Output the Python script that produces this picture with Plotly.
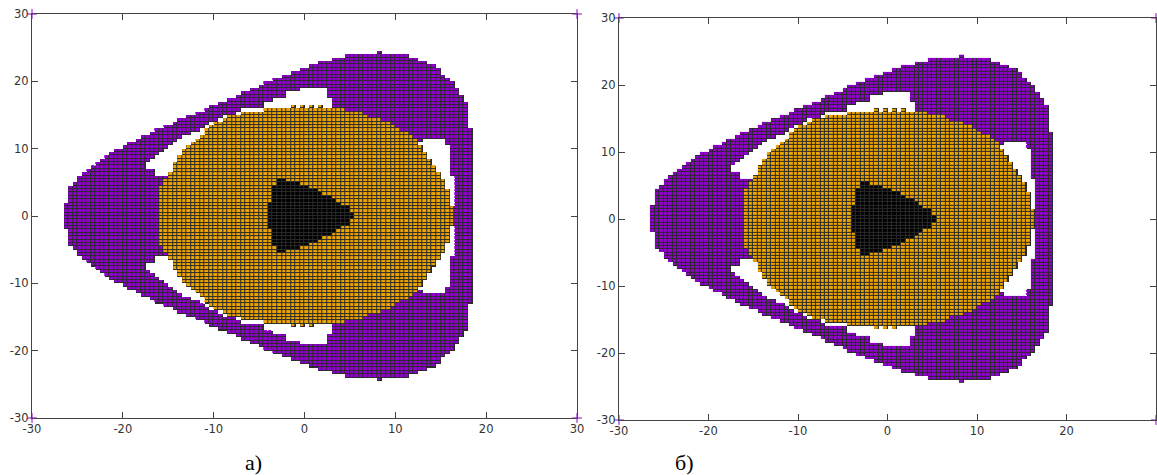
import numpy as np
import plotly.graph_objects as go

# ---------------- data ----------------
# grid of 0.5 x 0.5 cells; every row is given by its lower edge y,
# the purple outer extent, white holes, orange extent, black extent
CELL = 0.5
X_EDGES = (-27.0, 19.0)
Y_EDGES = (-24.5, 24.5)

# (y_low, purple_left, purple_right, holes, orange, black)
ROWS_UPPER = [
    (24.0, 8.0, 8.5, [], None, None),
    (23.5, 4.5, 11.5, [], None, None),
    (23.0, 3.0, 12.5, [], None, None),
    (22.5, 1.5, 13.5, [], None, None),
    (22.0, 0.5, 14.5, [], None, None),
    (21.5, -0.5, 15.0, [], None, None),
    (21.0, -1.5, 15.0, [], None, None),
    (20.5, -2.5, 15.5, [], None, None),
    (20.0, -3.5, 16.0, [], None, None),
    (19.5, -4.5, 16.5, [], None, None),
    (19.0, -5.0, 16.5, [], None, None),
    (18.5, -6.0, 17.0, [(-0.5, 2.5)], None, None),
    (18.0, -7.0, 17.0, [(-2.0, 2.5)], None, None),
    (17.5, -7.5, 17.5, [(-2.0, 2.5)], None, None),
    (17.0, -8.5, 17.5, [(-3.5, 3.0)], None, None),
    (16.5, -9.5, 18.0, [(-4.5, 3.0)], None, None),
    (16.0, -10.5, 18.0, [(-4.5, 3.0)], None, None),
    (15.5, -11.0, 18.0, [(-7.0, -4.5)], (-4.5, 4.5), None),
    (15.0, -12.0, 18.0, [(-7.5, -7.0)], (-7.0, 6.5), None),
    (14.5, -13.0, 18.0, [(-9.0, -8.5)], (-8.5, 7.0), None),
    (14.0, -14.0, 18.0, [(-9.5, -9.0)], (-9.0, 8.5), None),
    (13.5, -14.5, 18.0, [(-10.5, -10.0)], (-10.0, 9.5), None),
    (13.0, -15.5, 18.0, [(-11.0, -10.5)], (-10.5, 10.0), None),
    (12.5, -16.5, 18.5, [(-11.5, -11.0)], (-11.0, 10.5), None),
    (12.0, -17.0, 18.5, [(-12.5, -11.0)], (-11.0, 11.5), None),
    (11.5, -18.0, 18.5, [(-13.5, -11.5)], (-11.5, 12.0), None),
    (11.0, -18.5, 18.5, [(-14.0, -12.0), (13.0, 15.5)], (-12.0, 12.5), None),
    (10.5, -19.5, 18.5, [(-14.5, -12.5), (12.5, 15.5)], (-12.5, 12.5), None),
    (10.0, -20.0, 18.5, [(-15.0, -13.0), (13.0, 16.0)], (-13.0, 13.0), None),
    (9.5, -21.0, 18.5, [(-15.5, -13.5), (13.0, 16.0)], (-13.5, 13.0), None),
    (9.0, -21.5, 18.5, [(-16.0, -13.5), (13.5, 16.0)], (-13.5, 13.5), None),
    (8.5, -22.0, 18.5, [(-16.5, -14.0), (13.5, 16.0)], (-14.0, 13.5), None),
    (8.0, -22.5, 18.5, [(-17.0, -14.0), (14.0, 16.0)], (-14.0, 14.0), None),
    (7.5, -23.0, 18.5, [(-17.5, -14.5), (14.0, 16.0)], (-14.5, 14.0), None),
    (7.0, -23.5, 18.5, [(-17.5, -14.5), (14.5, 16.0)], (-14.5, 14.5), None),
    (6.5, -24.0, 18.5, [(-16.5, -14.5), (14.5, 16.0)], (-14.5, 14.5), None),
    (6.0, -24.5, 18.5, [(-16.5, -15.0), (15.0, 16.0)], (-15.0, 15.0), None),
    (5.5, -25.0, 18.5, [(15.0, 16.5)], (-15.0, 15.0), None),
    (5.0, -25.0, 18.5, [(15.5, 16.5)], (-15.5, 15.5), (-3.0, -2.0)),
    (4.5, -25.5, 18.5, [(15.5, 16.5)], (-15.5, 15.5), (-3.0, -0.5)),
    (4.0, -26.0, 18.5, [(15.5, 16.5)], (-16.0, 15.5), (-3.5, 0.5)),
    (3.5, -26.0, 18.5, [(16.0, 16.5)], (-16.0, 16.0), (-3.5, 1.5)),
    (3.0, -26.0, 18.5, [(16.0, 16.5)], (-16.0, 16.0), (-3.5, 2.0)),
    (2.5, -26.0, 18.5, [(16.0, 16.5)], (-16.0, 16.0), (-3.5, 3.0)),
    (2.0, -26.0, 18.5, [(16.0, 16.5)], (-16.0, 16.0), (-3.5, 3.5)),
    (1.5, -26.5, 18.5, [(16.0, 16.5)], (-16.0, 16.0), (-4.0, 4.0)),
    (1.0, -26.5, 18.5, [], (-16.0, 16.5), (-4.0, 5.0)),
    (0.5, -26.5, 18.5, [], (-16.0, 16.5), (-4.0, 5.0)),
    (0.0, -26.5, 18.5, [], (-16.0, 16.5), (-4.0, 5.5)),
]

ROWS_LOWER = [
    (-0.5, -26.5, 18.5, [], (-16.0, 16.5), (-4.0, 5.5)),
    (-1.0, -26.5, 18.5, [], (-16.0, 16.5), (-4.0, 5.0)),
    (-1.5, -26.5, 18.5, [], (-16.0, 16.5), (-4.0, 5.0)),
    (-2.0, -26.5, 18.5, [(16.0, 16.5)], (-16.0, 16.0), (-4.0, 4.0)),
    (-2.5, -26.0, 18.5, [(16.0, 16.5)], (-16.0, 16.0), (-3.5, 3.5)),
    (-3.0, -26.0, 18.5, [(16.0, 16.5)], (-16.0, 16.0), (-3.5, 3.0)),
    (-3.5, -26.0, 18.5, [(16.0, 16.5)], (-16.0, 16.0), (-3.5, 2.0)),
    (-4.0, -26.0, 18.5, [(16.0, 16.5)], (-16.0, 16.0), (-3.5, 1.5)),
    (-4.5, -26.0, 18.5, [(15.5, 16.5)], (-16.0, 15.5), (-3.5, 0.5)),
    (-5.0, -25.5, 18.5, [(15.5, 16.5)], (-15.5, 15.5), (-3.0, -0.5)),
    (-5.5, -25.0, 18.5, [(15.5, 16.5)], (-15.5, 15.5), (-3.0, -2.0)),
    (-6.0, -25.0, 18.5, [(15.0, 16.5)], (-15.0, 15.0), None),
    (-6.5, -24.5, 18.5, [(-16.5, -15.0), (15.0, 16.0)], (-15.0, 15.0), None),
    (-7.0, -24.0, 18.5, [(-16.5, -14.5), (14.5, 16.0)], (-14.5, 14.5), None),
    (-7.5, -23.5, 18.5, [(-17.5, -14.5), (14.5, 16.0)], (-14.5, 14.5), None),
    (-8.0, -23.0, 18.5, [(-17.5, -14.5), (14.0, 16.0)], (-14.5, 14.0), None),
    (-8.5, -22.5, 18.5, [(-17.0, -14.0), (14.0, 16.0)], (-14.0, 14.0), None),
    (-9.0, -22.0, 18.5, [(-16.5, -14.0), (13.5, 16.0)], (-14.0, 13.5), None),
    (-9.5, -21.5, 18.5, [(-16.0, -13.5), (13.5, 16.0)], (-13.5, 13.5), None),
    (-10.0, -21.0, 18.5, [(-15.5, -13.5), (13.0, 16.0)], (-13.5, 13.0), None),
    (-10.5, -20.0, 18.5, [(-15.0, -13.0), (13.0, 16.0)], (-13.0, 13.0), None),
    (-11.0, -19.5, 18.5, [(-14.5, -12.5), (12.5, 15.5)], (-12.5, 12.5), None),
    (-11.5, -18.5, 18.5, [(-14.0, -12.0), (13.0, 15.5)], (-12.0, 12.5), None),
    (-12.0, -18.0, 18.5, [(-13.5, -11.5)], (-11.5, 12.0), None),
    (-12.5, -17.0, 18.5, [(-12.5, -11.0)], (-11.0, 11.5), None),
    (-13.0, -16.5, 18.5, [(-11.5, -11.0)], (-11.0, 10.5), None),
    (-13.5, -15.5, 18.0, [(-11.0, -10.5)], (-10.5, 10.0), None),
    (-14.0, -14.5, 18.0, [(-10.5, -10.0)], (-10.0, 9.5), None),
    (-14.5, -14.0, 18.0, [(-9.5, -9.0)], (-9.0, 8.5), None),
    (-15.0, -13.0, 18.0, [(-9.0, -8.5)], (-8.5, 7.0), None),
    (-15.5, -12.0, 18.0, [(-7.5, -7.0)], (-7.0, 6.5), None),
    (-16.0, -11.0, 18.0, [(-7.0, -4.5)], (-4.5, 4.5), None),
    (-16.5, -10.5, 18.0, [(-4.5, 3.0)], None, None),
    (-17.0, -9.5, 18.0, [(-4.5, 3.0)], None, None),
    (-17.5, -8.5, 17.5, [(-3.5, 3.0)], None, None),
    (-18.0, -7.5, 17.5, [(-2.0, 2.5)], None, None),
    (-18.5, -7.0, 17.0, [(-2.0, 2.5)], None, None),
    (-19.0, -6.0, 17.0, [(-0.5, 2.5)], None, None),
    (-19.5, -5.0, 16.5, [], None, None),
    (-20.0, -4.5, 16.5, [], None, None),
    (-20.5, -3.5, 16.0, [], None, None),
    (-21.0, -2.5, 15.5, [], None, None),
    (-21.5, -1.5, 15.0, [], None, None),
    (-22.0, -0.5, 15.0, [], None, None),
    (-22.5, 0.5, 14.5, [], None, None),
    (-23.0, 1.5, 13.5, [], None, None),
    (-23.5, 3.0, 12.5, [], None, None),
    (-24.0, 4.5, 11.5, [], None, None),
    (-24.5, 8.0, 8.5, [], None, None),
]

# single orange cells sticking out of the top / bottom of the orange region
TEETH_X_TOP = [-1.5, -0.5, 0.5, 1.5]
TEETH_Y_TOP = 16.0
TEETH_X_BOTTOM = [-1.5, -0.5, 0.5]
TEETH_Y_BOTTOM = -16.5

TICKS = [-30, -20, -10, 0, 10, 20, 30]
TICK_TEXT = ["-30", "-20", "-10", "0", "10", "20", "30"]
AXIS_RANGE = [-30, 30]
CORNER_X = [-30, 30, -30, 30]
CORNER_Y = [30, 30, -30, -30]
PANEL_LABELS = ["а)", "б)"]

PURPLE = "#9400D3"
ORANGE = "#EBA400"
BLACK = "#000000"
EDGE = "#2a2a2a"

# ---------------- build the cell grid ----------------
nx = int(round((X_EDGES[1] - X_EDGES[0]) / CELL))
ny = int(round((Y_EDGES[1] - Y_EDGES[0]) / CELL))
xc = X_EDGES[0] + CELL * (np.arange(nx) + 0.5)
yc = Y_EDGES[0] + CELL * (np.arange(ny) + 0.5)
z = np.full((ny, nx), np.nan)


def ci(v):
    return int(round((v - X_EDGES[0]) / CELL))


def ri(v):
    return int(round((v - Y_EDGES[0]) / CELL))


for (ylow, pl, pr, holes, org, blk) in ROWS_UPPER + ROWS_LOWER:
    j = ri(ylow)
    z[j, ci(pl):ci(pr)] = 1
    for a, b in holes:
        z[j, ci(a):ci(b)] = np.nan
    if org:
        z[j, ci(org[0]):ci(org[1])] = 2
    if blk:
        z[j, ci(blk[0]):ci(blk[1])] = 3
for xl in TEETH_X_TOP:
    z[ri(TEETH_Y_TOP), ci(xl)] = 2
for xl in TEETH_X_BOTTOM:
    z[ri(TEETH_Y_BOTTOM), ci(xl)] = 2

z_under = np.where(np.isnan(z), np.nan, 1.0)

cscale = [[0, PURPLE], [0.3333, PURPLE], [0.3334, ORANGE], [0.6666, ORANGE],
          [0.6667, BLACK], [1, BLACK]]

fig = go.Figure()
for n, (xa, ya) in enumerate([("x", "y"), ("x2", "y2")]):
    fig.add_trace(go.Heatmap(x=xc, y=yc, z=z_under, zmin=0, zmax=1,
                             colorscale=[[0, EDGE], [1, EDGE]], showscale=False,
                             hoverinfo="skip", xaxis=xa, yaxis=ya))
    fig.add_trace(go.Heatmap(x=xc, y=yc, z=z, zmin=1, zmax=3, colorscale=cscale,
                             showscale=False, xgap=1, ygap=1, hoverinfo="skip",
                             xaxis=xa, yaxis=ya))
    fig.add_trace(go.Scatter(x=CORNER_X, y=CORNER_Y, mode="markers",
                             marker=dict(symbol="cross-thin", size=7,
                                         line=dict(color=PURPLE, width=1)),
                             cliponaxis=False, hoverinfo="skip",
                             xaxis=xa, yaxis=ya, showlegend=False))

axis_common = dict(range=AXIS_RANGE, tickvals=TICKS, ticktext=TICK_TEXT,
                   ticks="inside", ticklen=6, automargin=False,
                   tickcolor="#444", showline=True, linecolor="#444", linewidth=1.3,
                   mirror="ticks", showgrid=False, zeroline=False,
                   tickfont=dict(family="DejaVu Sans", size=11.5, color="#333"))

W, H = 1157, 475
fig.update_layout(
    width=W, height=H, margin=dict(l=0, r=0, t=0, b=0),
    paper_bgcolor="white", plot_bgcolor="white", showlegend=False,
    xaxis=dict(axis_common, domain=[32 / W, 577 / W], anchor="y"),
    yaxis=dict(axis_common, domain=[(H - 418) / H, (H - 14) / H], anchor="x"),
    xaxis2=dict(axis_common, domain=[619 / W, 1156 / W], anchor="y2"),
    yaxis2=dict(axis_common, domain=[(H - 420) / H, (H - 18) / H], anchor="x2"),
    annotations=[
        dict(text=PANEL_LABELS[0], x=253 / W, y=(H - 462) / H, xref="paper", yref="paper",
             xanchor="center", yanchor="middle", showarrow=False,
             font=dict(family="Liberation Serif", size=22, color="black")),
        dict(text=PANEL_LABELS[1], x=684 / W, y=(H - 462) / H, xref="paper", yref="paper",
             xanchor="center", yanchor="middle", showarrow=False,
             font=dict(family="Liberation Serif", size=22, color="black")),
    ],
)

fig.write_html("out.html", config={"displayModeBar": False},
               post_script="document.body.style.margin='0';document.body.style.overflow='hidden';")
